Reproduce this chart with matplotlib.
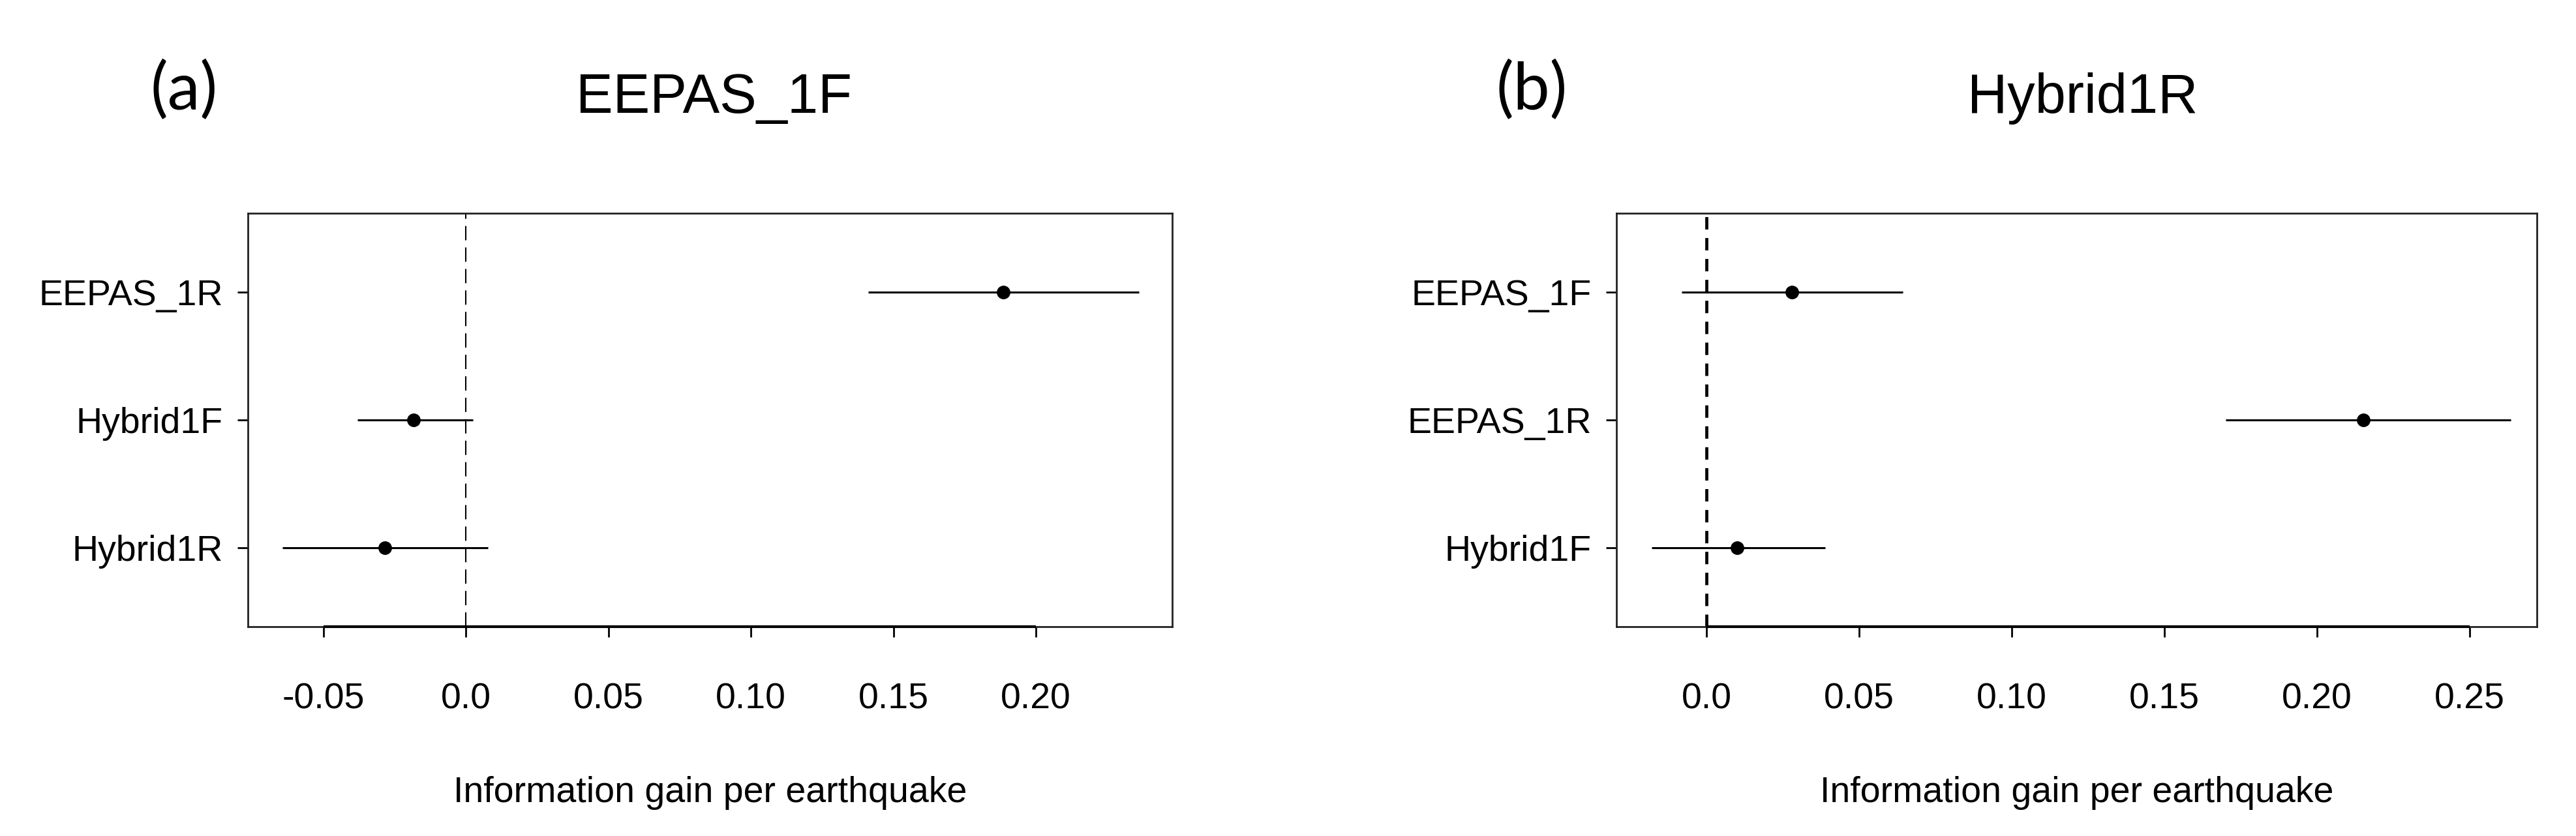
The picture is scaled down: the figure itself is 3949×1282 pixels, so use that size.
import matplotlib
matplotlib.use("Agg")
import matplotlib.pyplot as plt

plt.rcParams["font.family"] = ["Liberation Sans", "DejaVu Sans"]
plt.rcParams["lines.scale_dashes"] = False

# panel (a): reference model EEPAS_1F
left_models = ["EEPAS_1R", "Hybrid1F", "Hybrid1R"]
left_est = [0.1886, -0.0183, -0.0284]
left_lo = [0.1412, -0.0380, -0.0643]
left_hi = [0.2362, 0.0025, 0.0078]
left_ticks = [-0.05, 0.0, 0.05, 0.10, 0.15, 0.20]
left_ticklabels = ["-0.05", "0.0", "0.05", "0.10", "0.15", "0.20"]

# panel (b): reference model Hybrid1R
right_models = ["EEPAS_1F", "EEPAS_1R", "Hybrid1F"]
right_est = [0.0280, 0.2152, 0.0101]
right_lo = [-0.0081, 0.1700, -0.0180]
right_hi = [0.0643, 0.2635, 0.0389]
right_ticks = [0.0, 0.05, 0.10, 0.15, 0.20, 0.25]
right_ticklabels = ["0.0", "0.05", "0.10", "0.15", "0.20", "0.25"]

W, H = 3949, 1282
fig = plt.figure(figsize=(W / 100, H / 100), dpi=100)

ax_top, ax_bot = 327, 961


def add_axes_px(x0, x1):
    return fig.add_axes([x0 / W, 1 - ax_bot / H, (x1 - x0) / W, (ax_bot - ax_top) / H])


def draw_panel(ax, models, est, lo, hi, ticks, ticklabels, xlim, dash_lw, dashes):
    ypos = list(range(len(models), 0, -1))
    ax.axvline(0, color="black", lw=dash_lw, dashes=dashes, zorder=1)
    for y, e, a, b in zip(ypos, est, lo, hi):
        ax.plot([a, b], [y, y], color="black", lw=2.2, solid_capstyle="butt", zorder=2)
        ax.plot(e, y, "o", color="black", markersize=14, zorder=3)

    ax.set_xlim(*xlim)
    ax.set_ylim(0.38, 3.62)
    ax.set_xticks(ticks)
    ax.set_xticklabels(ticklabels)
    ax.set_yticks(ypos)
    ax.set_yticklabels(models)
    ax.tick_params(axis="x", direction="out", length=11.5, width=2, pad=50, labelsize=40)
    ax.tick_params(axis="y", direction="out", length=11.5, width=2, pad=16, labelsize=40)
    for s in ax.spines.values():
        s.set_linewidth(2)
        s.set_color("#222222")
    # R style axis line between first and last tick
    ax.plot([ticks[0], ticks[-1]], [0.38, 0.38], color="black", lw=3,
            clip_on=False, zorder=4, solid_capstyle="butt")

    ax.set_xlabel("Information gain per earthquake", fontsize=40)
    ax.xaxis.label.set_va("baseline")
    ax.xaxis.set_label_coords(0.5, -(1230 - ax_bot) / (ax_bot - ax_top))


ax1 = add_axes_px(380, 1797)
draw_panel(ax1, left_models, left_est, left_lo, left_hi, left_ticks, left_ticklabels,
           (-0.0765, 0.2478), 1.5, (15.8, 7.9))

ax2 = add_axes_px(2478, 3889)
draw_panel(ax2, right_models, right_est, right_lo, right_hi, right_ticks, right_ticklabels,
           (-0.0295, 0.272), 3.4, (13.7, 9.4))

# titles and panel letters
fig.text(1095 / W, 1 - 173 / H, "EEPAS_1F", ha="center", va="baseline", fontsize=61)
fig.text(3193 / W, 1 - 173 / H, "Hybrid1R", ha="center", va="baseline", fontsize=61)
fig.text(282 / W, 1 - 168 / H, "(a)", ha="center", va="baseline", fontsize=72, family="Lato")
fig.text(2348 / W, 1 - 168 / H, "(b)", ha="center", va="baseline", fontsize=72, family="Lato")

fig.savefig("out.png", dpi=100)
